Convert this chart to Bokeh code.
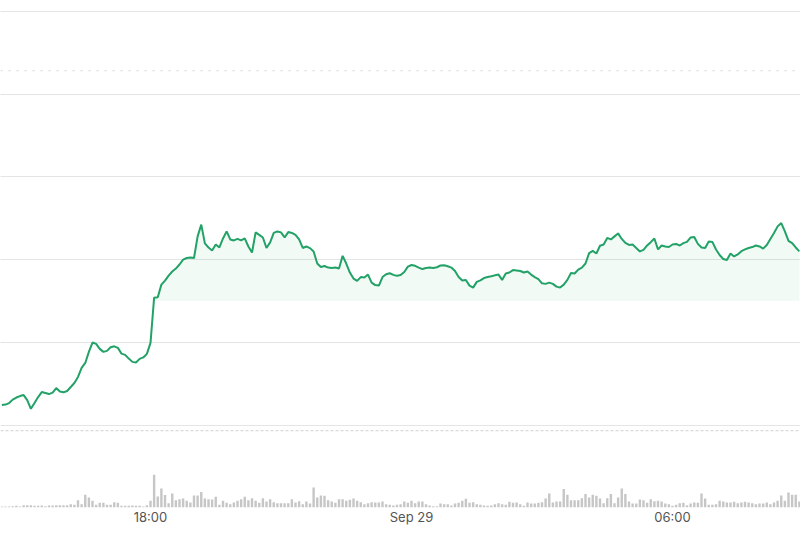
import pandas as pd
from bokeh.plotting import figure
from bokeh.models import Range1d, FixedTicker, Span, Grid
from bokeh.embed import file_html
from bokeh.resources import INLINE

# ---- data ----
times = pd.date_range("2024-09-28 14:35", periods=221, freq="5min")

price = [
    2602.43, 2602.49, 2602.67, 2603.09, 2603.34, 2603.52, 2603.64, 2603.03, 2601.98, 2602.67,
    2603.40, 2604.00, 2603.88, 2603.76, 2603.94, 2604.49, 2604.07, 2603.97, 2604.13, 2604.61,
    2605.10, 2605.83, 2606.92, 2607.52, 2608.86, 2609.99, 2609.83, 2609.22, 2608.86, 2608.98,
    2609.41, 2609.53, 2609.34, 2608.65, 2608.50, 2608.05, 2607.65, 2607.58, 2608.01, 2608.19,
    2608.62, 2609.95, 2615.41, 2615.47, 2616.99, 2617.48, 2618.08, 2618.57, 2618.93, 2619.42,
    2620.02, 2620.21, 2620.27, 2620.21, 2622.82, 2624.24, 2621.97, 2621.48, 2621.12, 2621.84,
    2621.48, 2622.57, 2623.42, 2622.45, 2622.33, 2622.51, 2622.33, 2622.57, 2621.60, 2620.87,
    2623.30, 2623.00, 2622.69, 2621.42, 2622.09, 2623.24, 2623.42, 2623.30, 2622.69, 2623.34,
    2623.24, 2623.00, 2622.45, 2621.42, 2621.60, 2621.40, 2621.00, 2619.54, 2619.11, 2619.24,
    2619.05, 2618.99, 2619.05, 2618.93, 2620.47, 2619.54, 2618.45, 2617.72, 2617.44, 2617.90,
    2617.84, 2618.20, 2617.23, 2616.93, 2616.87, 2617.90, 2618.24, 2618.36, 2618.17, 2618.05,
    2618.14, 2618.51, 2619.17, 2619.36, 2619.26, 2619.05, 2618.87, 2618.99, 2619.05, 2618.99,
    2619.09, 2619.30, 2619.32, 2619.21, 2619.05, 2618.63, 2617.90, 2617.48, 2617.54, 2616.87,
    2616.63, 2617.32, 2617.51, 2617.78, 2617.90, 2617.99, 2618.11, 2618.20, 2617.56, 2618.33,
    2618.45, 2618.75, 2618.69, 2618.63, 2618.45, 2618.57, 2618.20, 2617.90, 2617.66, 2617.15,
    2617.08, 2617.23, 2617.08, 2616.75, 2616.63, 2616.99, 2617.56, 2618.39, 2618.33, 2618.81,
    2619.05, 2619.54, 2620.79, 2621.06, 2620.75, 2621.69, 2621.84, 2622.63, 2622.45, 2622.82,
    2623.18, 2622.51, 2622.03, 2621.78, 2621.84, 2621.42, 2621.00, 2621.18, 2621.72, 2622.12,
    2622.57, 2621.24, 2621.72, 2621.60, 2621.54, 2621.84, 2621.91, 2621.72, 2622.00, 2622.15,
    2622.69, 2622.75, 2621.91, 2621.48, 2621.42, 2622.21, 2622.15, 2621.24, 2620.57, 2620.09,
    2619.96, 2620.75, 2620.39, 2620.63, 2621.03, 2621.24, 2621.42, 2621.53, 2621.72, 2621.60,
    2621.34, 2621.78, 2622.51, 2623.22, 2624.03, 2624.43, 2623.42, 2622.27, 2622.00, 2621.48, 2621.00,
]

volume = [
    3, 3, 3, 4, 5, 3, 7, 7, 7, 5,
    5, 6, 4, 6, 6, 7, 7, 7, 7, 10,
    8, 22, 10, 38, 30, 20, 8, 14, 14, 8,
    8, 16, 14, 5, 5, 5, 6, 5, 5, 3,
    7, 20, 98, 33, 57, 37, 13, 42, 22, 25,
    27, 20, 15, 36, 36, 46, 27, 25, 24, 32,
    8, 20, 14, 10, 15, 20, 25, 32, 22, 28,
    20, 14, 28, 18, 25, 16, 13, 13, 13, 13,
    25, 15, 19, 10, 18, 12, 60, 30, 36, 35,
    22, 18, 14, 25, 25, 20, 23, 27, 20, 16,
    10, 13, 16, 15, 15, 18, 10, 8, 6, 8,
    10, 18, 14, 20, 13, 18, 18, 10, 6, 4,
    4, 12, 10, 10, 6, 12, 14, 20, 26, 14,
    16, 10, 8, 6, 5, 6, 10, 13, 10, 8,
    17, 14, 15, 10, 5, 15, 12, 12, 14, 16,
    27, 42, 15, 18, 18, 55, 38, 22, 22, 22,
    28, 40, 30, 38, 35, 27, 13, 28, 40, 13,
    30, 57, 40, 18, 12, 12, 24, 22, 14, 25,
    19, 20, 18, 12, 10, 5, 8, 13, 14, 7,
    12, 15, 14, 42, 27, 8, 8, 10, 20, 18,
    15, 15, 17, 13, 15, 17, 15, 13, 10, 12,
    12, 15, 10, 15, 20, 36, 20, 45, 38, 38, 18,
]

baseline_price = 2615.0     # previous-close baseline
upper_ref = 2642.84         # dotted reference line
lower_ref = 2599.33         # dashed reference line
grid_levels = [2600, 2610, 2620, 2630, 2640, 2650]
tick_hours = [-6, 0, 6]
tick_labels = ["18:00", "Sep 29", "06:00"]

# ---- derived ----
midnight = pd.Timestamp("2024-09-29 00:00")
hours = [(t - midnight).total_seconds() / 3600.0 for t in times]
fill_top = [max(v, baseline_price) for v in price]
step_h = 5 / 60

p = figure(
    width=800, height=527,
    x_range=Range1d(-9.4483, 8.9425),
    y_range=Range1d(2590.05, 2651.33),
    toolbar_location=None, output_backend="svg",
    y_axis_location=None, min_border=0,
    outline_line_color=None,
    background_fill_color="white", border_fill_color="white",
)
p.extra_y_ranges = {"vol": Range1d(0, 1515)}
p.xgrid.visible = False

p.add_layout(Grid(dimension=1, ticker=FixedTicker(ticks=grid_levels),
                  grid_line_color="#e4e4e6", grid_line_width=1))

# volume bars
p.vbar(x=hours, top=volume, width=step_h * 0.66, y_range_name="vol",
       fill_color="#c6c6c6", line_color=None)

# baseline fill
p.varea(x=hours, y1=[baseline_price] * len(hours), y2=fill_top,
        fill_color="#2aa66b", fill_alpha=0.06)

p.add_layout(Span(location=upper_ref, dimension="width", line_color="#d6d6d6",
                  line_width=1, line_dash="2 6"))
p.add_layout(Span(location=lower_ref, dimension="width", line_color="#d0d0d0",
                  line_width=1, line_dash="3 2"))

# price line
p.line(hours, price, line_color="#22a266", line_width=2)

ax = p.xaxis[0]
ax.ticker = FixedTicker(ticks=tick_hours)
ax.major_label_overrides = dict(zip(tick_hours, tick_labels))
ax.axis_line_color = None
ax.major_tick_line_color = None
ax.minor_tick_line_color = None
ax.major_tick_out = 0
ax.major_label_standoff = 1
ax.major_label_text_font = "Inter"
ax.major_label_text_font_size = "13px"
ax.major_label_text_color = "#555555"

open("out.html", "w").write(file_html(p, INLINE))
